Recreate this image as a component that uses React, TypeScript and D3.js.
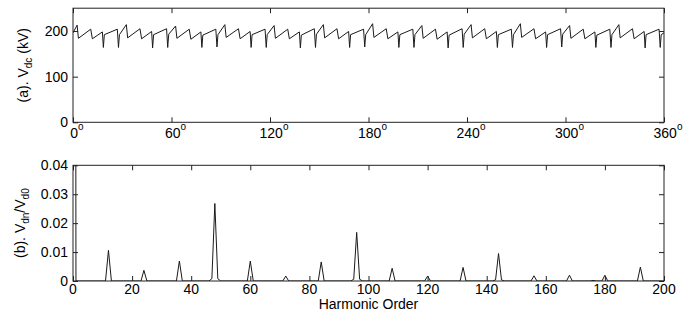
import React, { useEffect, useRef } from "react";
import * as d3 from "d3";

// (a) DC voltage over one cycle: [angle (deg), Vdc (kV)]
const vdcPoints: [number, number][] = [
  [0, 196],
  [2.5, 213], [3.3, 184], [10.8, 204], [11.8, 183], [17.9, 198], [18.5, 164], [19.1, 192], [27.0, 204], [27.7, 164], [28.3, 192],
  [32.5, 214], [33.3, 185], [40.8, 205], [41.8, 183], [47.9, 199], [48.5, 163], [49.1, 192], [57.0, 205], [57.7, 164], [58.3, 193],
  [62.5, 211], [63.3, 184], [70.8, 204], [71.8, 182], [77.9, 198], [78.5, 164], [79.1, 191], [87.0, 204], [87.7, 165], [88.3, 192],
  [92.5, 214], [93.3, 186], [100.8, 205], [101.8, 183], [107.9, 199], [108.5, 164], [109.1, 192], [117.0, 204], [117.7, 164], [118.3, 192],
  [122.5, 212], [123.3, 184], [130.8, 204], [131.8, 183], [137.9, 198], [138.5, 163], [139.1, 191], [147.0, 205], [147.7, 164], [148.3, 193],
  [152.5, 214], [153.3, 185], [160.8, 205], [161.8, 183], [167.9, 199], [168.5, 164], [169.1, 192], [177.0, 204], [177.7, 165], [178.3, 192],
  [182.5, 216], [183.3, 186], [190.8, 205], [191.8, 183], [197.9, 198], [198.5, 164], [199.1, 192], [207.0, 204], [207.7, 164], [208.3, 192],
  [212.5, 212], [213.3, 184], [220.8, 204], [221.8, 182], [227.9, 198], [228.5, 163], [229.1, 191], [237.0, 205], [237.7, 164], [238.3, 193],
  [242.5, 214], [243.3, 185], [250.8, 205], [251.8, 183], [257.9, 199], [258.5, 164], [259.1, 192], [267.0, 204], [267.7, 164], [268.3, 192],
  [272.5, 216], [273.3, 186], [280.8, 205], [281.8, 183], [287.9, 198], [288.5, 164], [289.1, 192], [297.0, 205], [297.7, 165], [298.3, 193],
  [302.5, 212], [303.3, 184], [310.8, 204], [311.8, 183], [317.9, 198], [318.5, 164], [319.1, 191], [327.0, 204], [327.7, 164], [328.3, 192],
  [332.5, 214], [333.3, 185], [340.8, 205], [341.8, 183], [347.9, 199], [348.5, 163], [349.1, 192], [357.0, 204], [357.7, 164], [358.3, 192],
  [360, 196],
];

// (b) harmonic spectrum, non-zero orders only (all other orders are ~0)
const harmonicOrders = [0, 12, 24, 36, 47, 48, 49, 60, 72, 84, 95, 96, 97, 108, 120, 132, 143, 144, 145, 156, 168, 176, 180, 192];
const harmonicValues = [1.0, 0.0106, 0.0037, 0.0069, 0.0008, 0.0268, 0.0008, 0.0069, 0.0017, 0.0066, 0.0006, 0.0168, 0.0006, 0.0044, 0.0017, 0.0047, 0.0004, 0.0095, 0.0004, 0.0018, 0.002, 0.0002, 0.002, 0.0048];
const maxOrder = 200;

const angleTicks = [0, 60, 120, 180, 240, 300, 360];
const vdcTicks = [0, 100, 200];
const orderTicks = [0, 20, 40, 60, 80, 100, 120, 140, 160, 180, 200];
const ratioTicks = [0, 0.01, 0.02, 0.03, 0.04];

const FONT = "Liberation Sans, Arial, sans-serif";
const FS = 14;

const App = () => {
  const ref = useRef<SVGSVGElement>(null);

  useEffect(() => {
    const svg = d3.select(ref.current);
    svg.selectAll("*").remove();

    const left = 73, right = 664;
    const x1 = d3.scaleLinear().domain([0, 360]).range([left, right]);
    const y1 = d3.scaleLinear().domain([0, 250]).range([122.3, 8.2]);
    const x2 = d3.scaleLinear().domain([0, maxOrder]).range([left, right]);
    const y2 = d3.scaleLinear().domain([0, 0.04]).range([281, 165.3]);

    const defs = svg.append("defs");
    defs.append("clipPath").attr("id", "clipA").append("rect")
      .attr("x", left).attr("y", 8.2).attr("width", right - left).attr("height", 122.3 - 8.2);
    defs.append("clipPath").attr("id", "clipB").append("rect")
      .attr("x", left).attr("y", 165.3).attr("width", right - left).attr("height", 281 - 165.3);

    const spectrum: [number, number][] = d3.range(0, maxOrder + 1).map((n) => {
      const i = harmonicOrders.indexOf(n);
      return [n, i >= 0 ? harmonicValues[i] : 0];
    });

    const drawPanel = (
      xs: d3.ScaleLinear<number, number>,
      ys: d3.ScaleLinear<number, number>,
      xt: number[],
      yt: number[],
      clip: string,
      data: [number, number][]
    ) => {
      const [y0, yTop] = ys.range();
      const g = svg.append("g");

      // data line
      g.append("path")
        .datum(data)
        .attr("clip-path", `url(#${clip})`)
        .attr("fill", "none")
        .attr("stroke", "#1a1a1a")
        .attr("stroke-width", 1)
        .attr("d", d3.line<[number, number]>().x((d) => xs(d[0])).y((d) => ys(d[1])));

      // inward ticks on all four sides
      const tick = (axis: any, tr: string) => {
        const a = g.append("g").attr("transform", tr)
          .call(axis.tickSizeInner(-5).tickSizeOuter(0).tickFormat(() => ""));
        a.select(".domain").remove();
        a.selectAll("line").attr("stroke", "#222");
      };
      tick(d3.axisBottom(xs).tickValues(xt), `translate(0,${y0})`);
      tick(d3.axisTop(xs).tickValues(xt), `translate(0,${yTop})`);
      tick(d3.axisLeft(ys).tickValues(yt), `translate(${left},0)`);
      tick(d3.axisRight(ys).tickValues(yt), `translate(${right},0)`);

      g.append("rect")
        .attr("x", left).attr("y", yTop)
        .attr("width", right - left).attr("height", y0 - yTop)
        .attr("fill", "none").attr("stroke", "#222").attr("stroke-width", 1);

      return g;
    };

    const gA = drawPanel(x1, y1, angleTicks, vdcTicks, "clipA", vdcPoints);
    const gB = drawPanel(x2, y2, orderTicks, ratioTicks, "clipB", spectrum);

    // y tick labels
    gA.selectAll(".ylab").data(vdcTicks).join("text")
      .attr("x", 68).attr("y", (d) => y1(d)).attr("dy", "0.36em")
      .attr("text-anchor", "end").attr("font-family", FONT).attr("font-size", FS)
      .text((d) => String(d));
    gB.selectAll(".ylab").data(ratioTicks).join("text")
      .attr("x", 68).attr("y", (d) => y2(d)).attr("dy", "0.36em")
      .attr("text-anchor", "end").attr("font-family", FONT).attr("font-size", FS)
      .text((d) => (d === 0 ? "0" : d.toFixed(2)));

    // degree labels
    const deg = gA.selectAll(".xlab").data(angleTicks).join("text")
      .attr("x", (d) => x1(d) + 4).attr("y", 138)
      .attr("text-anchor", "middle").attr("font-family", FONT).attr("font-size", FS);
    deg.append("tspan").text((d) => String(d));
    deg.append("tspan").attr("dy", -8).attr("font-size", 10).text("o");

    gB.selectAll(".xlab").data(orderTicks).join("text")
      .attr("x", (d) => x2(d)).attr("y", 293.5)
      .attr("text-anchor", "middle").attr("font-family", FONT).attr("font-size", FS)
      .text((d) => String(d));

    svg.append("text")
      .attr("x", (left + right) / 2).attr("y", 309)
      .attr("text-anchor", "middle").attr("font-family", FONT).attr("font-size", FS)
      .text("Harmonic Order");

    // rotated y titles with subscripts
    const ta = svg.append("text")
      .attr("transform", `translate(28,${(y1.range()[0] + y1.range()[1]) / 2}) rotate(-90)`)
      .attr("text-anchor", "middle").attr("font-family", FONT).attr("font-size", FS);
    ta.append("tspan").text("(a). V");
    ta.append("tspan").attr("dy", 3.5).attr("font-size", 10).text("dc");
    ta.append("tspan").attr("dy", -3.5).text(" (kV)");

    const tb = svg.append("text")
      .attr("transform", `translate(25,${(y2.range()[0] + y2.range()[1]) / 2}) rotate(-90)`)
      .attr("text-anchor", "middle").attr("font-family", FONT).attr("font-size", FS);
    tb.append("tspan").text("(b). V");
    tb.append("tspan").attr("dy", 3.5).attr("font-size", 10).text("dn");
    tb.append("tspan").attr("dy", -3.5).text("/V");
    tb.append("tspan").attr("dy", 3.5).attr("font-size", 10).text("d0");
  }, []);

  return (
    <svg
      ref={ref}
      width={697}
      height={324}
      style={{ position: "absolute", left: 0, top: 0, background: "#fff" }}
    />
  );
};

export default App;
